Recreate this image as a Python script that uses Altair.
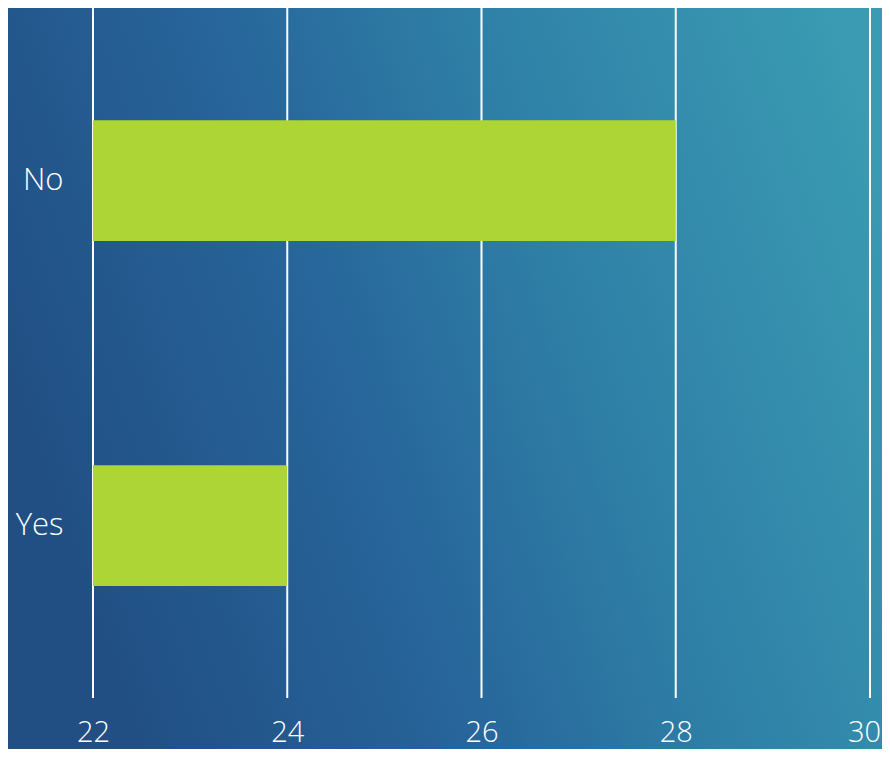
import altair as alt
import pandas as pd

categories = ["No", "Yes"]
values = [28, 24]
ticks = [22, 24, 26, 28, 30]

W, H = 777, 690
PAD = {"left": 85, "top": 0, "right": 12, "bottom": 51}

df = pd.DataFrame({"answer": categories, "count": values})
tick_df = pd.DataFrame({"t": ticks})

xscale = alt.Scale(domain=[ticks[0], ticks[-1]], zero=False, nice=False)

xaxis = alt.Axis(
    values=ticks, grid=False, ticks=False, domain=False,
    labelColor="white", labelFontSize=29, labelFont="Open Sans",
    labelFontWeight=300,
    labelPadding=20, title=None, labelFlush=False, zindex=1,
    labelOffset={"condition": {"test": f"datum.value === {ticks[-1]}", "value": -6}, "value": 0},
)

grad = alt.LinearGradient(
    gradient="linear",
    x1=0, y1=0.5, x2=1, y2=0.2,
    stops=[
        alt.GradientStop(offset=0, color="#214f84"),
        alt.GradientStop(offset=0.35, color="#27659a"),
        alt.GradientStop(offset=0.6, color="#2e7ea6"),
        alt.GradientStop(offset=1, color="#3a9bb2"),
    ],
)

bg = alt.Chart(alt.Data(values=[{}])).mark_rect(fill=grad, strokeWidth=0).encode(
    x=alt.value(-PAD["left"]),
    x2=alt.value(W + PAD["right"]),
    y=alt.value(0),
    y2=alt.value(H + PAD["bottom"]),
)

grid = alt.Chart(tick_df).mark_rule(color="white", strokeWidth=2).encode(
    x=alt.X("t:Q", scale=xscale, axis=xaxis),
)

bars = alt.Chart(df).mark_bar(color="#add535", opacity=1).encode(
    x=alt.X("count:Q", scale=xscale, axis=xaxis),
    x2=alt.datum(ticks[0]),
    y=alt.Y(
        "answer:N",
        sort=categories,
        scale=alt.Scale(paddingInner=0.65, paddingOuter=0.325),
        axis=alt.Axis(
            ticks=False, domain=False, grid=False,
            labelColor="white", labelFontSize=31, labelFont="Open Sans",
            labelFontWeight=300,
            labelPadding=30, title=None, zindex=1,
        ),
    ),
)

chart = alt.layer(bg, grid, bars).properties(
    width=W, height=H,
    autosize=alt.AutoSizeParams(type="none"),
    padding=PAD,
).configure_view(stroke=None)

chart.save("out.html", embed_options={"renderer": "svg", "actions": False})
